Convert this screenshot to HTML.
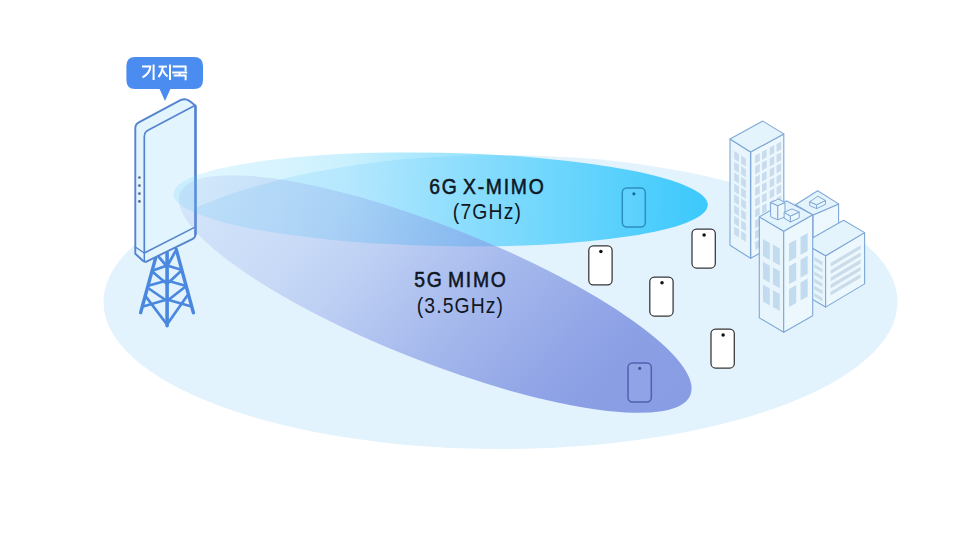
<!DOCTYPE html>
<html><head><meta charset="utf-8">
<style>
html,body{margin:0;padding:0;background:#fff;}
body{width:973px;height:535px;overflow:hidden;position:relative;font-family:"Liberation Sans",sans-serif;}
svg{position:absolute;left:0;top:0;}
.t{position:absolute;color:#0e1624;white-space:nowrap;text-align:center;}
</style></head><body>
<svg width="973" height="535" viewBox="0 0 973 535">
<defs>
  <linearGradient id="g6" gradientUnits="userSpaceOnUse" x1="175" y1="0" x2="707" y2="0">
    <stop offset="0" stop-color="#3cc9fc" stop-opacity="0.15"/>
    <stop offset="0.075" stop-color="#3cc9fc" stop-opacity="0.17"/>
    <stop offset="0.2" stop-color="#3cc9fc" stop-opacity="0.21"/>
    <stop offset="0.32" stop-color="#3cc9fc" stop-opacity="0.27"/>
    <stop offset="0.5" stop-color="#3cc9fc" stop-opacity="0.47"/>
    <stop offset="0.733" stop-color="#3cc9fc" stop-opacity="0.72"/>
    <stop offset="0.93" stop-color="#3cc9fc" stop-opacity="0.93"/>
    <stop offset="1" stop-color="#3cc9fc" stop-opacity="1"/>
  </linearGradient>
  <linearGradient id="g5" gradientUnits="userSpaceOnUse" x1="178" y1="192" x2="685" y2="394">
    <stop offset="0" stop-color="#889ce4" stop-opacity="0.13"/>
    <stop offset="0.083" stop-color="#889ce4" stop-opacity="0.18"/>
    <stop offset="0.265" stop-color="#889ce4" stop-opacity="0.29"/>
    <stop offset="0.369" stop-color="#889ce4" stop-opacity="0.4"/>
    <stop offset="0.544" stop-color="#889ce4" stop-opacity="0.64"/>
    <stop offset="0.6375" stop-color="#889ce4" stop-opacity="0.756"/>
    <stop offset="0.774" stop-color="#889ce4" stop-opacity="0.92"/>
    <stop offset="0.835" stop-color="#889ce4" stop-opacity="0.967"/>
    <stop offset="1" stop-color="#889ce4" stop-opacity="1"/>
  </linearGradient>
</defs>
<!-- ground ellipse -->
<ellipse cx="500.5" cy="302" rx="397" ry="147" fill="#e2f3fe"/>

<!-- phones -->
<g fill="#fff" stroke="#363636" stroke-width="1.25">
  <rect x="588.8" y="245.8" width="23.3" height="39" rx="4.5"/>
  <rect x="649.8" y="277" width="23.3" height="39" rx="4.5"/>
  <rect x="692" y="229" width="23.3" height="39" rx="4.5"/>
  <rect x="711" y="329" width="23.3" height="39" rx="4.5"/>
</g>
<g fill="#111">
  <circle cx="600.9" cy="251.6" r="1.75"/>
  <circle cx="662" cy="282.8" r="1.75"/>
  <circle cx="704.1" cy="235" r="1.75"/>
  <circle cx="723.1" cy="334.9" r="1.75"/>
</g>

<!-- tower lattice -->
<g stroke="#4a88e0" fill="none" stroke-linecap="round" stroke-linejoin="round">
  <line x1="155.6" y1="258" x2="140.6" y2="312.7" stroke-width="3.4"/>
  <line x1="176.2" y1="249.2" x2="193.4" y2="312.7" stroke-width="3.4"/>
  <line x1="167.1" y1="252.6" x2="167.1" y2="325.8" stroke-width="3.6"/>
  <g stroke-width="2.7">
  <path d="M158 256 L167 266.5 L175 252"/>
  <path d="M153 270.5 L167 265.5 L180.5 269.5"/>
  <path d="M152.8 272 L167 284 L181 271"/>
  <path d="M149 285.5 L167 280.5 L184.5 285.5"/>
  <path d="M148 288 L167 301 L185 287"/>
  <path d="M143 306.5 L167 299.5 L191.5 306.5"/>
  <path d="M145.3 295.9 L167 324.5 L187 295.9"/>
  </g>
</g>

<!-- panel -->
<g stroke="#5584cf" stroke-width="1.9" stroke-linejoin="round" stroke-linecap="round">
  <path d="M135.3 253.7 L135.3 128.3 Q135.3 124.2 138.8 122.4 L180.5 100.2 Q183.6 98.6 187 99.6 Q189 100.3 192.2 103 Q195.5 105 195.5 108 L195.5 234 Q195.5 237.6 192.3 239.1 L147 261.3 Q145 262.3 143.2 261 Z" fill="#e2f4fe"/>
  <path d="M144.3 253 L144.3 137 Q144.3 132.2 148 130.3 L195.3 105.3" fill="none" stroke-width="1.7"/>
  <path d="M144.3 253 L195.5 226.8" fill="none" stroke-width="1.5"/>
  <path d="M135.3 247 L144.3 253 L144.3 261" fill="none" stroke-width="1.5"/>
  <path d="M195.5 106 L195.5 234" fill="none" stroke-width="2.4"/>
</g>
<g fill="#52698c">
  <circle cx="139.4" cy="177.5" r="1.35"/>
  <circle cx="139.4" cy="185.6" r="1.35"/>
  <circle cx="139.4" cy="193.6" r="1.35"/>
  <circle cx="139.4" cy="201.4" r="1.35"/>
</g>

<!-- beams -->
<ellipse cx="440.6" cy="199.4" rx="267.2" ry="46.7" transform="rotate(1.2 440.6 199.4)" fill="url(#g6)"/>
<ellipse cx="435.2" cy="294" rx="274.4" ry="67.6" transform="rotate(21.57 435.2 294)" fill="url(#g5)"/>
<rect x="622.3" y="187.9" width="23" height="39.2" rx="4.5" fill="#fff" fill-opacity="0.06" stroke="#2c8fc2" stroke-width="1.5"/>
<circle cx="633.9" cy="193.8" r="1.6" fill="#176a9c"/>
<rect x="628" y="363" width="23.3" height="39" rx="4.5" fill="#fff" fill-opacity="0.06" stroke="#5060b0" stroke-width="1.5"/>
<circle cx="639.7" cy="368.4" r="1.6" fill="#47549e"/>

<!-- bubble -->
<path d="M135 57 H194 Q203 57 203 66 V80 Q203 89 194 89 H170.4 L165 101 L159.6 89 H135 Q126.4 89 126.4 80 V66 Q126.4 57 135 57 Z" fill="#4a8cef"/>
<g stroke="#fff" stroke-width="2.0" fill="none" stroke-linecap="butt">
  <path d="M142 66.6 H150.3 Q150 73 142.5 77.5"/>
  <path d="M153.6 64.5 V80"/>
  <path d="M158.6 66.6 H167"/>
  <path d="M162.8 66.6 Q162 73 158.5 77"/>
  <path d="M162.8 70 Q164 74 167.5 76.5"/>
  <path d="M170 64.5 V80"/>
  <path d="M172.7 66.5 H185.6 V71.2"/>
  <path d="M172.2 72.5 H187.2"/>
  <path d="M179.6 72.5 V75"/>
  <path d="M173.7 75.5 H185.6 V80.2"/>
</g>

<!-- buildings placeholder -->
<g id="bld">
<polygon points="730.0,139.0 750.6,152.0 750.6,258.3 730.0,245.3" fill="#e8f5fd" stroke="#7fa8d6" stroke-width="1.1" stroke-linejoin="round"/>
<polygon points="750.6,152.0 783.8,133.9 783.8,240.2 750.6,258.3" fill="#edf8fe" stroke="#7fa8d6" stroke-width="1.1" stroke-linejoin="round"/>
<polygon points="730.0,139.0 762.8,121.1 783.8,133.9 750.6,152.0" fill="#e4f4fd" stroke="#7fa8d6" stroke-width="1.1" stroke-linejoin="round"/>
<polygon points="734.2,151.0 738.9,154.0 738.9,162.0 734.2,159.0" fill="#c8dcee"/>
<polygon points="741.2,155.4 745.9,158.4 745.9,166.4 741.2,163.4" fill="#c8dcee"/>
<polygon points="734.2,161.8 738.9,164.8 738.9,172.8 734.2,169.8" fill="#c8dcee"/>
<polygon points="741.2,166.2 745.9,169.2 745.9,177.2 741.2,174.2" fill="#c8dcee"/>
<polygon points="734.2,172.6 738.9,175.6 738.9,183.6 734.2,180.6" fill="#c8dcee"/>
<polygon points="741.2,177.0 745.9,180.0 745.9,188.0 741.2,185.0" fill="#c8dcee"/>
<polygon points="734.2,183.4 738.9,186.4 738.9,194.4 734.2,191.4" fill="#c8dcee"/>
<polygon points="741.2,187.8 745.9,190.8 745.9,198.8 741.2,195.8" fill="#c8dcee"/>
<polygon points="734.2,194.2 738.9,197.2 738.9,205.2 734.2,202.2" fill="#c8dcee"/>
<polygon points="741.2,198.6 745.9,201.6 745.9,209.6 741.2,206.6" fill="#c8dcee"/>
<polygon points="734.2,205.0 738.9,208.0 738.9,216.0 734.2,213.0" fill="#c8dcee"/>
<polygon points="741.2,209.4 745.9,212.4 745.9,220.4 741.2,217.4" fill="#c8dcee"/>
<polygon points="734.2,215.8 738.9,218.8 738.9,226.8 734.2,223.8" fill="#c8dcee"/>
<polygon points="741.2,220.2 745.9,223.2 745.9,231.2 741.2,228.2" fill="#c8dcee"/>
<polygon points="734.2,226.6 738.9,229.6 738.9,237.6 734.2,234.6" fill="#c8dcee"/>
<polygon points="741.2,231.0 745.9,234.0 745.9,242.0 741.2,239.0" fill="#c8dcee"/>
<polygon points="755.1,155.6 759.8,153.0 759.8,161.0 755.1,163.6" fill="#c8dcee"/>
<polygon points="762.0,151.8 766.7,149.3 766.7,157.3 762.0,159.8" fill="#c8dcee"/>
<polygon points="769.6,147.7 774.3,145.1 774.3,153.1 769.6,155.7" fill="#c8dcee"/>
<polygon points="776.5,143.9 781.2,141.4 781.2,149.4 776.5,151.9" fill="#c8dcee"/>
<polygon points="755.1,166.4 759.8,163.8 759.8,171.8 755.1,174.4" fill="#c8dcee"/>
<polygon points="762.0,162.6 766.7,160.1 766.7,168.1 762.0,170.6" fill="#c8dcee"/>
<polygon points="769.6,158.5 774.3,155.9 774.3,163.9 769.6,166.5" fill="#c8dcee"/>
<polygon points="776.5,154.7 781.2,152.2 781.2,160.2 776.5,162.7" fill="#c8dcee"/>
<polygon points="755.1,177.2 759.8,174.6 759.8,182.6 755.1,185.2" fill="#c8dcee"/>
<polygon points="762.0,173.4 766.7,170.9 766.7,178.9 762.0,181.4" fill="#c8dcee"/>
<polygon points="769.6,169.3 774.3,166.7 774.3,174.7 769.6,177.3" fill="#c8dcee"/>
<polygon points="776.5,165.5 781.2,163.0 781.2,171.0 776.5,173.5" fill="#c8dcee"/>
<polygon points="755.1,188.0 759.8,185.4 759.8,193.4 755.1,196.0" fill="#c8dcee"/>
<polygon points="762.0,184.2 766.7,181.7 766.7,189.7 762.0,192.2" fill="#c8dcee"/>
<polygon points="769.6,180.1 774.3,177.5 774.3,185.5 769.6,188.1" fill="#c8dcee"/>
<polygon points="776.5,176.3 781.2,173.8 781.2,181.8 776.5,184.3" fill="#c8dcee"/>
<polygon points="755.1,198.8 759.8,196.2 759.8,204.2 755.1,206.8" fill="#c8dcee"/>
<polygon points="762.0,195.0 766.7,192.5 766.7,200.5 762.0,203.0" fill="#c8dcee"/>
<polygon points="769.6,190.9 774.3,188.3 774.3,196.3 769.6,198.9" fill="#c8dcee"/>
<polygon points="776.5,187.1 781.2,184.6 781.2,192.6 776.5,195.1" fill="#c8dcee"/>
<polygon points="755.1,209.6 759.8,207.0 759.8,215.0 755.1,217.6" fill="#c8dcee"/>
<polygon points="762.0,205.8 766.7,203.3 766.7,211.3 762.0,213.8" fill="#c8dcee"/>
<polygon points="769.6,201.7 774.3,199.1 774.3,207.1 769.6,209.7" fill="#c8dcee"/>
<polygon points="776.5,197.9 781.2,195.4 781.2,203.4 776.5,205.9" fill="#c8dcee"/>
<polygon points="755.1,220.4 759.8,217.8 759.8,225.8 755.1,228.4" fill="#c8dcee"/>
<polygon points="762.0,216.6 766.7,214.1 766.7,222.1 762.0,224.6" fill="#c8dcee"/>
<polygon points="769.6,212.5 774.3,209.9 774.3,217.9 769.6,220.5" fill="#c8dcee"/>
<polygon points="776.5,208.7 781.2,206.2 781.2,214.2 776.5,216.7" fill="#c8dcee"/>
<polygon points="755.1,231.2 759.8,228.6 759.8,236.6 755.1,239.2" fill="#c8dcee"/>
<polygon points="762.0,227.4 766.7,224.9 766.7,232.9 762.0,235.4" fill="#c8dcee"/>
<polygon points="769.6,223.3 774.3,220.7 774.3,228.7 769.6,231.3" fill="#c8dcee"/>
<polygon points="776.5,219.5 781.2,217.0 781.2,225.0 776.5,227.5" fill="#c8dcee"/>
<polygon points="755.1,242.0 759.8,239.4 759.8,247.4 755.1,250.0" fill="#c8dcee"/>
<polygon points="762.0,238.2 766.7,235.7 766.7,243.7 762.0,246.2" fill="#c8dcee"/>
<polygon points="769.6,234.1 774.3,231.5 774.3,239.5 769.6,242.1" fill="#c8dcee"/>
<polygon points="776.5,230.3 781.2,227.8 781.2,235.8 776.5,238.3" fill="#c8dcee"/>
<line x1="750.6" y1="152" x2="750.6" y2="258.3" stroke="#7fa8d6" stroke-width="1.3"/>
<polygon points="795.5,204.8 813.0,215.0 813.0,275.0 795.5,264.8" fill="#e8f5fd" stroke="#7fa8d6" stroke-width="1.1" stroke-linejoin="round"/>
<polygon points="813.0,215.0 838.6,203.9 838.6,263.9 813.0,275.0" fill="#edf8fe" stroke="#7fa8d6" stroke-width="1.1" stroke-linejoin="round"/>
<polygon points="795.5,204.8 817.7,190.8 838.6,203.9 813.0,215.0" fill="#e4f4fd" stroke="#7fa8d6" stroke-width="1.1" stroke-linejoin="round"/>
<polygon points="809.7,201.8 816.6,204.8 816.6,208.6 809.7,205.6" fill="#e8f5fd" stroke="#7fa8d6" stroke-width="1.0" stroke-linejoin="round"/>
<polygon points="816.6,204.8 825.5,200.5 825.5,204.3 816.6,208.6" fill="#edf8fe" stroke="#7fa8d6" stroke-width="1.0" stroke-linejoin="round"/>
<polygon points="809.7,201.8 817.8,196.2 825.5,200.5 816.6,204.8" fill="#e4f4fd" stroke="#7fa8d6" stroke-width="1.0" stroke-linejoin="round"/>
<polygon points="803.6,243.0 825.6,255.8 825.6,307.1 803.6,294.3" fill="#e8f5fd" stroke="#7fa8d6" stroke-width="1.1" stroke-linejoin="round"/>
<polygon points="825.6,255.8 864.6,232.6 864.6,283.9 825.6,307.1" fill="#edf8fe" stroke="#7fa8d6" stroke-width="1.1" stroke-linejoin="round"/>
<polygon points="803.6,243.0 843.6,220.3 864.6,232.6 825.6,255.8" fill="#e4f4fd" stroke="#7fa8d6" stroke-width="1.1" stroke-linejoin="round"/>
<polygon points="830.6,263.0 860.6,245.2 860.6,249.0 830.6,266.8" fill="#cadcea"/>
<polygon points="830.6,270.2 860.6,252.4 860.6,256.2 830.6,274.0" fill="#cadcea"/>
<polygon points="830.6,277.4 860.6,259.6 860.6,263.4 830.6,281.2" fill="#cadcea"/>
<polygon points="830.6,284.6 860.6,266.8 860.6,270.6 830.6,288.4" fill="#cadcea"/>
<polygon points="830.6,291.8 860.6,274.0 860.6,277.8 830.6,295.6" fill="#cadcea"/>
<polygon points="814.3,257.0 822.5,261.8 822.5,265.4 814.3,260.6" fill="#cadcea"/>
<polygon points="814.3,264.2 822.5,269.0 822.5,272.6 814.3,267.8" fill="#cadcea"/>
<polygon points="814.3,271.4 822.5,276.2 822.5,279.8 814.3,275.0" fill="#cadcea"/>
<polygon points="814.3,278.6 822.5,283.4 822.5,287.0 814.3,282.2" fill="#cadcea"/>
<polygon points="814.3,285.8 822.5,290.6 822.5,294.2 814.3,289.4" fill="#cadcea"/>
<polygon points="814.3,293.0 822.5,297.8 822.5,301.4 814.3,296.6" fill="#cadcea"/>
<polygon points="759.3,216.9 783.7,231.2 783.7,332.2 759.3,317.9" fill="#e8f5fd" stroke="#7fa8d6" stroke-width="1.1" stroke-linejoin="round"/>
<polygon points="783.7,231.2 812.7,214.8 812.7,315.8 783.7,332.2" fill="#edf8fe" stroke="#7fa8d6" stroke-width="1.1" stroke-linejoin="round"/>
<polygon points="759.3,216.9 786.6,200.9 812.7,214.8 783.7,231.2" fill="#e4f4fd" stroke="#7fa8d6" stroke-width="1.1" stroke-linejoin="round"/>
<polygon points="762.9,239.0 769.8,243.0 769.8,260.0 762.9,256.0" fill="#c3dbee"/>
<polygon points="772.9,244.5 779.8,248.5 779.8,265.5 772.9,261.5" fill="#c3dbee"/>
<polygon points="789.0,243.5 796.2,239.4 796.2,257.4 789.0,261.5" fill="#c3dbee"/>
<polygon points="800.5,237.0 807.7,232.9 807.7,250.9 800.5,255.0" fill="#c3dbee"/>
<polygon points="762.9,261.8 769.8,265.8 769.8,282.8 762.9,278.8" fill="#c3dbee"/>
<polygon points="772.9,267.3 779.8,271.3 779.8,288.3 772.9,284.3" fill="#c3dbee"/>
<polygon points="789.0,266.3 796.2,262.2 796.2,280.2 789.0,284.3" fill="#c3dbee"/>
<polygon points="800.5,259.8 807.7,255.7 807.7,273.7 800.5,277.8" fill="#c3dbee"/>
<polygon points="762.9,284.6 769.8,288.6 769.8,305.6 762.9,301.6" fill="#c3dbee"/>
<polygon points="772.9,290.1 779.8,294.1 779.8,311.1 772.9,307.1" fill="#c3dbee"/>
<polygon points="789.0,289.1 796.2,285.0 796.2,303.0 789.0,307.1" fill="#c3dbee"/>
<polygon points="800.5,282.6 807.7,278.5 807.7,296.5 800.5,300.6" fill="#c3dbee"/>
<polygon points="770.6,202.6 777.8,205.6 777.8,219.8 770.6,216.8" fill="#e8f5fd" stroke="#7fa8d6" stroke-width="1.0" stroke-linejoin="round"/>
<polygon points="777.8,205.6 785.0,202.6 785.0,216.8 777.8,219.8" fill="#edf8fe" stroke="#7fa8d6" stroke-width="1.0" stroke-linejoin="round"/>
<polygon points="770.6,202.6 778.6,199.1 785.0,202.6 777.8,205.6" fill="#e4f4fd" stroke="#7fa8d6" stroke-width="1.0" stroke-linejoin="round"/>
<polygon points="784.1,212.3 790.4,216.1 790.4,222.0 784.1,218.2" fill="#e8f5fd" stroke="#7fa8d6" stroke-width="1.0" stroke-linejoin="round"/>
<polygon points="790.4,216.1 799.2,212.0 799.2,217.9 790.4,222.0" fill="#edf8fe" stroke="#7fa8d6" stroke-width="1.0" stroke-linejoin="round"/>
<polygon points="784.1,212.3 792.1,208.9 799.2,212.0 790.4,216.1" fill="#e4f4fd" stroke="#7fa8d6" stroke-width="1.0" stroke-linejoin="round"/>
</g>
<g font-family="'Liberation Sans', sans-serif" fill="#0e1624" text-anchor="middle">
  <text x="540.56" y="193.7" font-size="21.5" stroke="#0e1624" stroke-width="0.55" word-spacing="-3" textLength="127.2" lengthAdjust="spacing" transform="scale(0.9 1)">6G X-MIMO</text>
  <text x="541.00" y="218.9" font-size="21.5" textLength="75.9" lengthAdjust="spacing" transform="scale(0.9 1)">(7GHz)</text>
  <text x="511.22" y="286.6" font-size="21.5" stroke="#0e1624" stroke-width="0.55" word-spacing="-3" textLength="101.6" lengthAdjust="spacing" transform="scale(0.9 1)">5G MIMO</text>
  <text x="511.00" y="312.6" font-size="21.5" textLength="95.8" lengthAdjust="spacing" transform="scale(0.9 1)">(3.5GHz)</text>
</g>
</svg>
</body></html>
